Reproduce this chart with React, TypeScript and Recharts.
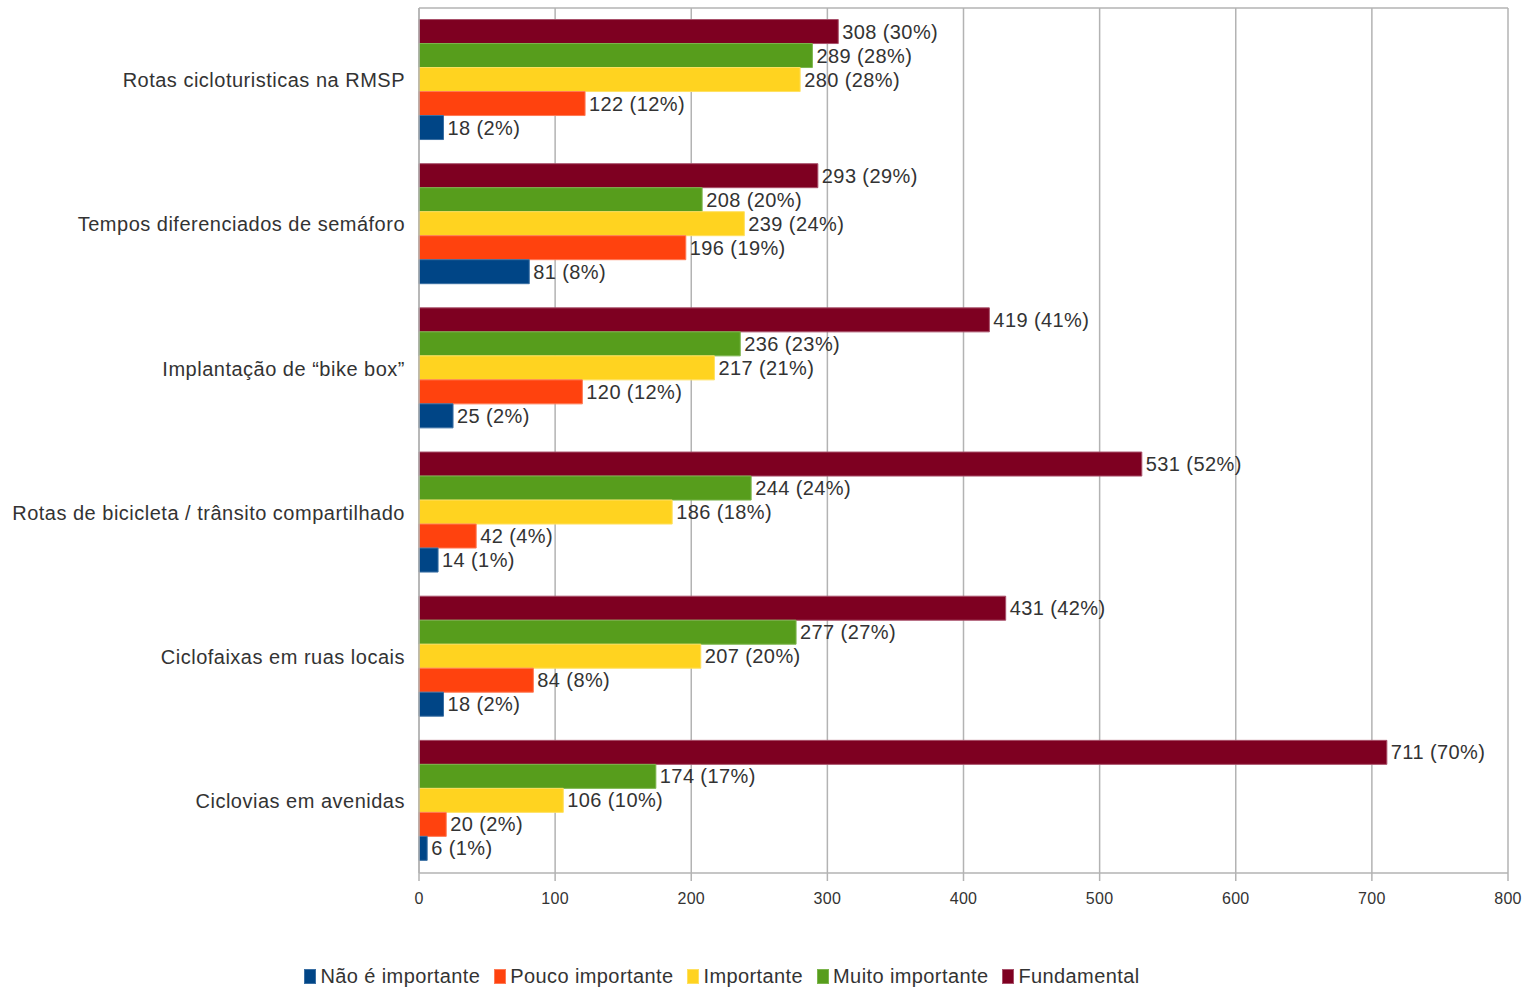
import React from 'react';
import { BarChart, Bar, XAxis, YAxis, CartesianGrid, Legend, LabelList } from 'recharts';

const categories = [
    'Rotas cicloturisticas na RMSP',
    'Tempos diferenciados de semáforo',
    'Implantação de “bike box”',
    'Rotas de bicicleta / trânsito compartilhado',
    'Ciclofaixas em ruas locais',
    'Ciclovias em avenidas',
];

const naoImportante = [18, 81, 25, 14, 18, 6];
const poucoImportante = [122, 196, 120, 42, 84, 20];
const importante = [280, 239, 217, 186, 207, 106];
const muitoImportante = [289, 208, 236, 244, 277, 174];
const fundamental = [308, 293, 419, 531, 431, 711];

const naoPct = [2, 8, 2, 1, 2, 1];
const poucoPct = [12, 19, 12, 4, 8, 2];
const importantePct = [28, 24, 21, 18, 20, 10];
const muitoPct = [28, 20, 23, 24, 27, 17];
const fundamentalPct = [30, 29, 41, 52, 42, 70];

const xTicks = [0, 100, 200, 300, 400, 500, 600, 700, 800];
const bandTicks = [0, 1, 2, 3, 4, 5, 6];

// legend order (left to right); bars are drawn top-down in the reverse order
const series = [
    { key: 'nao', name: 'Não é importante', values: naoImportante, pct: naoPct, fill: '#004586', stroke: '#3a6fa3' },
    { key: 'pouco', name: 'Pouco importante', values: poucoImportante, pct: poucoPct, fill: '#ff420e', stroke: '#ff7a55' },
    { key: 'imp', name: 'Importante', values: importante, pct: importantePct, fill: '#ffd320', stroke: '#ffe060' },
    { key: 'muito', name: 'Muito importante', values: muitoImportante, pct: muitoPct, fill: '#579d1c', stroke: '#7cb54d' },
    { key: 'fund', name: 'Fundamental', values: fundamental, pct: fundamentalPct, fill: '#7e0021', stroke: '#a8506a' },
];

const data = categories.map((name, i) => {
    const row: Record<string, string | number> = { name };
    series.forEach(s => {
        row[s.key] = s.values[i];
        row[s.key + 'Label'] = `${s.values[i]} (${s.pct[i]}%)`;
    });
    return row;
});

const FONT = '"Liberation Sans", Arial, sans-serif';
const GRID = '#b3b3b3';
const TEXT = '#333333';

function LegendContent() {
    return (
        <div style={{ display: 'flex', justifyContent: 'center', alignItems: 'center', height: 30, paddingRight: 50, fontFamily: FONT, fontSize: 20, letterSpacing: 0.4, color: TEXT }}>
            {series.map(s => (
                <div key={s.key} style={{ display: 'flex', alignItems: 'center', marginRight: 14 }}>
                    <span style={{ display: 'inline-block', width: 10, height: 13, background: s.fill, border: `1px solid ${s.stroke}`, marginRight: 4 }} />
                    <span>{s.name}</span>
                </div>
            ))}
        </div>
    );
}

export default function App() {
    return (
        <div style={{ position: 'absolute', left: 0, top: 0, width: 1530, height: 991, background: '#fff' }}>
            <BarChart
                width={1530}
                height={991}
                data={data}
                layout="vertical"
                margin={{ top: 8, right: 22, left: 0, bottom: 0 }}
                barCategoryGap="8%"
                barGap={0}
            >
                <CartesianGrid
                    yAxisId="cat"
                    stroke={GRID}
                    strokeWidth={1.5}
                    horizontalCoordinatesGenerator={({ offset }: any) => [offset.top]}
                />
                <XAxis
                    type="number"
                    domain={[0, 800]}
                    ticks={xTicks}
                    interval={0}
                    height={88}
                    stroke={GRID}
                    strokeWidth={1.5}
                    tickSize={8}
                    tickMargin={12}
                    tick={{ fill: TEXT, fontSize: 16, fontFamily: FONT, letterSpacing: 0.3 }}
                />
                <YAxis
                    yAxisId="band"
                    type="number"
                    domain={[0, 6]}
                    ticks={bandTicks}
                    interval={0}
                    width={8}
                    tick={false}
                    tickSize={8}
                    stroke={GRID}
                    strokeWidth={1.5}
                />
                <YAxis
                    yAxisId="cat"
                    type="category"
                    dataKey="name"
                    width={411}
                    axisLine={false}
                    tickLine={false}
                    tickSize={4}
                    tickMargin={2}
                    interval={0}
                    tick={{ fill: TEXT, fontSize: 20, fontFamily: FONT, letterSpacing: 0.5 }}
                />
                <Legend verticalAlign="bottom" content={() => <LegendContent />} />
                {[...series].reverse().map(s => (
                    <Bar
                        key={s.key}
                        yAxisId="cat"
                        dataKey={s.key}
                        name={s.name}
                        fill={s.fill}
                        stroke={s.stroke}
                        strokeWidth={1}
                        isAnimationActive={false}
                    >
                        <LabelList
                            dataKey={s.key + 'Label'}
                            position="right"
                            offset={4}
                            fill={TEXT}
                            fontSize={20}
                            fontFamily={FONT}
                            letterSpacing={0.4}
                        />
                    </Bar>
                ))}
            </BarChart>
        </div>
    );
}
